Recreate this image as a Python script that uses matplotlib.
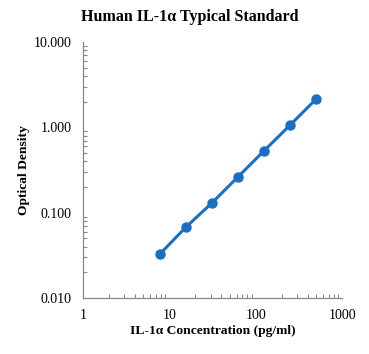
import matplotlib
matplotlib.use("Agg")
import matplotlib.pyplot as plt
from matplotlib.ticker import LogLocator, FixedLocator, FixedFormatter, NullFormatter

concentration = [7.8, 15.6, 31.25, 62.5, 125, 250, 500]
od = [0.033, 0.068, 0.131, 0.264, 0.533, 1.065, 2.15]
x_ticks = [1, 10, 100, 1000]
x_labels = ["1", "10", "100", "1000"]
y_ticks = [0.01, 0.1, 1, 10]
y_labels = ["0.010", "0.100", "1.000", "10.000"]

plt.rcParams['font.family'] = ['Liberation Serif', 'DejaVu Serif']

fig = plt.figure(figsize=(3.69, 3.54), dpi=100)
ax = fig.add_axes([0.225, 0.158, 0.702, 0.723])
color = "#1a6fc4"
ax.plot(concentration, od, color=color, lw=2.2, marker='o', ms=6.5, solid_capstyle='round')
ax.set_xscale('log')
ax.set_yscale('log')
ax.set_xlim(1, 1000)
ax.set_ylim(0.01, 10)

ax.xaxis.set_major_locator(FixedLocator(x_ticks))
ax.xaxis.set_major_formatter(FixedFormatter(x_labels))
ax.yaxis.set_major_locator(FixedLocator(y_ticks))
ax.yaxis.set_major_formatter(FixedFormatter(y_labels))
ax.xaxis.set_minor_locator(LogLocator(base=10, subs=range(2, 10)))
ax.yaxis.set_minor_locator(LogLocator(base=10, subs=range(2, 10)))
ax.xaxis.set_minor_formatter(NullFormatter())
ax.yaxis.set_minor_formatter(NullFormatter())

for s in ['top', 'right']:
    ax.spines[s].set_visible(False)
for s in ['left', 'bottom']:
    ax.spines[s].set_color('#888888')
    ax.spines[s].set_linewidth(0.9)
ax.tick_params(which='major', length=0, labelsize=10, pad=8)
ax.tick_params(which='minor', direction='in', length=3, color='#888888', width=0.8)

ax.set_xlabel("IL-1α Concentration (pg/ml)", fontsize=9.7, fontweight='bold', labelpad=2)
ax.set_ylabel("Optical Density", fontsize=9.7, fontweight='bold', labelpad=3)
fig.suptitle("Human IL-1α Typical Standard", fontsize=11.5, fontweight='bold', x=0.515, y=0.975)

fig.savefig("out.png", dpi=100)
